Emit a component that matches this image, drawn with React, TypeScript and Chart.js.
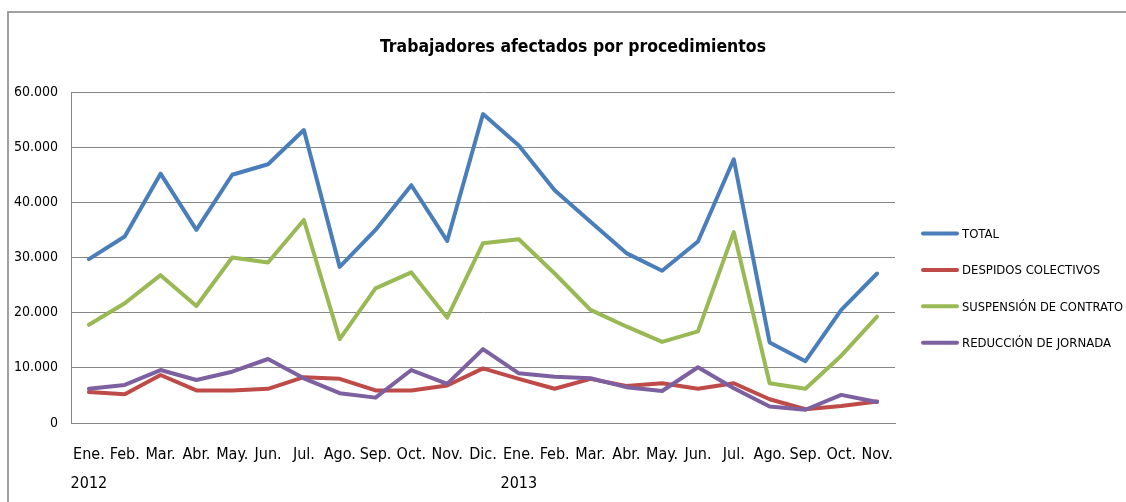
import React, { useEffect, useRef } from "react";
import { Chart, registerables } from "chart.js";

Chart.register(...registerables);

const monthLabels = ["Ene.", "Feb.", "Mar.", "Abr.", "May.", "Jun.", "Jul.", "Ago.", "Sep.", "Oct.", "Nov.", "Dic.", "Ene.", "Feb.", "Mar.", "Abr.", "May.", "Jun.", "Jul.", "Ago.", "Sep.", "Oct.", "Nov."];
const yearLabels = ["2012", "", "", "", "", "", "", "", "", "", "", "", "2013", "", "", "", "", "", "", "", "", "", ""];

const total = [29700, 33800, 45200, 35000, 45000, 46900, 53100, 28300, 35000, 43100, 33000, 56000, 50300, 42200, 36500, 30800, 27600, 32900, 47800, 14600, 11200, 20500, 27100];
const despidos = [5600, 5200, 8700, 5900, 5900, 6200, 8300, 8000, 5900, 5900, 6800, 9900, 8000, 6200, 8000, 6700, 7200, 6200, 7200, 4300, 2500, 3100, 3900];
const suspension = [17800, 21700, 26800, 21200, 30000, 29100, 36800, 15200, 24400, 27300, 19100, 32600, 33300, 27100, 20500, 17500, 14700, 16600, 34600, 7200, 6200, 12200, 19300];
const reduccion = [6200, 6900, 9600, 7800, 9300, 11600, 8100, 5400, 4600, 9600, 7100, 13400, 9000, 8400, 8100, 6500, 5800, 10100, 6300, 3000, 2400, 5100, 3800];

const seriesNames = ["TOTAL", "DESPIDOS COLECTIVOS", "SUSPENSIÓN DE CONTRATO", "REDUCCIÓN DE JORNADA"];
const seriesColors = ["#4A7EBB", "#BE4B48", "#98B954", "#7D60A0"];

const yTickValues = [0, 10000, 20000, 30000, 40000, 50000, 60000];
const yTickLabels = ["0", "10.000", "20.000", "30.000", "40.000", "50.000", "60.000"];

const titleText = "Trabajadores afectados por procedimientos";

const FONT = '"Liberation Sans Narrow", "DejaVu Sans Condensed", "Liberation Sans", sans-serif';

const titleLegendPlugin = {
  id: "titleLegend",
  afterDraw(chart: any) {
    const ctx = chart.ctx;
    ctx.save();
    ctx.fillStyle = "#000";
    ctx.font = "bold 17.5px " + FONT;
    ctx.textAlign = "center";
    ctx.textBaseline = "middle";
    ctx.fillText(chart.options.plugins.customTitle.text, 573, 47, 386);
    chart.data.datasets.forEach((ds: any, i: number) => {
      const y = 233.5 + i * 36.4;
      ctx.strokeStyle = ds.borderColor;
      ctx.lineWidth = 4;
      ctx.lineCap = "round";
      ctx.beginPath();
      ctx.moveTo(923, y);
      ctx.lineTo(957, y);
      ctx.stroke();
      ctx.fillStyle = "#000";
      ctx.font = "13px " + FONT;
      ctx.textAlign = "left";
      ctx.textBaseline = "middle";
      ctx.fillText(ds.label, 962, y + 1, 161);
    });
    ctx.restore();
  },
};

export default function App() {
  const ref = useRef<HTMLCanvasElement>(null);
  useEffect(() => {
    if (!ref.current) return;
    const labels = monthLabels.map((m, i) => (yearLabels[i] ? [m, yearLabels[i]] : [m]));
    const values = [total, despidos, suspension, reduccion];
    const chart = new Chart(ref.current, {
      type: "line",
      data: {
        labels,
        datasets: values.map((v, i) => ({
          label: seriesNames[i],
          data: v,
          borderColor: seriesColors[i],
          backgroundColor: seriesColors[i],
          borderWidth: 4,
          tension: 0,
          pointRadius: 0,
          pointHoverRadius: 0,
          borderCapStyle: "round",
          borderJoinStyle: "round",
          fill: false,
          order: 4 - i,
        })),
      },
      options: {
        responsive: false,
        animation: false,
        devicePixelRatio: 1,
        layout: { padding: { left: 0, right: 231, top: 92, bottom: 0 } },
        plugins: {
          legend: { display: false },
          tooltip: { enabled: false },
          title: { display: false },
          customTitle: { text: titleText },
        } as any,
        scales: {
          x: {
            offset: true,
            grid: { display: false, drawTicks: false },
            border: { display: true, color: "#868686", width: 1 },
            ticks: {
              autoSkip: false,
              maxRotation: 0,
              minRotation: 0,
              padding: 17,
              color: "#000",
              font: { family: FONT, size: 16, lineHeight: "29px" as any },
            },
            afterFit(scale: any) {
              scale.height = 79;
            },
          },
          y: {
            min: 0,
            max: 60000,
            afterBuildTicks(scale: any) {
              scale.ticks = yTickValues.map((v) => ({ value: v }));
            },
            grid: { color: "#868686", lineWidth: 1, drawTicks: false },
            border: { display: true, color: "#868686", width: 1 },
            ticks: {
              padding: 13,
              color: "#000",
              font: { family: FONT, size: 14 },
              callback: (value: any) => {
                const idx = yTickValues.indexOf(Number(value));
                return idx >= 0 ? yTickLabels[idx] : "";
              },
            },
            afterFit(scale: any) {
              scale.width = 71;
            },
          },
        },
      },
      plugins: [titleLegendPlugin],
    });
    return () => chart.destroy();
  }, []);

  return (
    <div style={{ position: "fixed", left: 0, top: 0, width: 1126, height: 502, background: "#fff", overflow: "hidden" }}>
      <div
        style={{
          position: "absolute",
          left: 7,
          top: 11,
          width: 1126,
          height: 502,
          borderLeft: "2px solid #a0a0a0",
          borderTop: "2px solid #a0a0a0",
        }}
      />
      <canvas ref={ref} width={1126} height={502} style={{ position: "absolute", left: 0, top: 0, width: 1126, height: 502 }} />
    </div>
  );
}
